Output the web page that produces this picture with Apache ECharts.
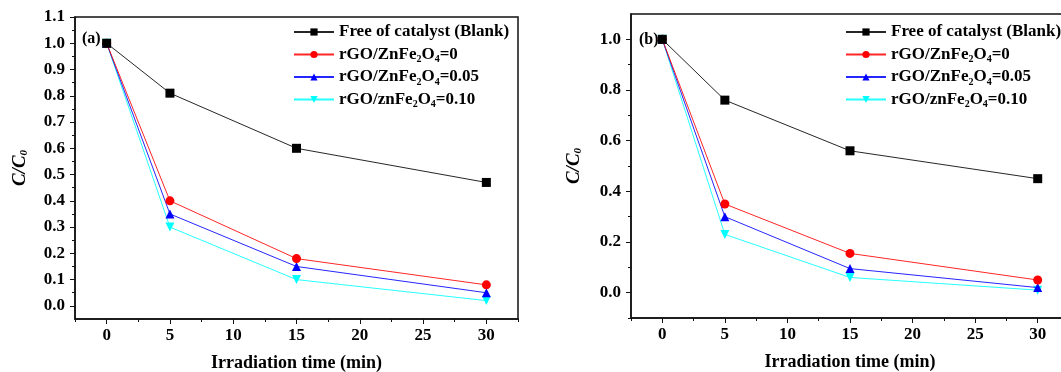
<!DOCTYPE html>
<html>
<head>
<meta charset="utf-8">
<script src="https://cdn.jsdelivr.net/npm/echarts@6/dist/echarts.min.js"></script>
<style>
  html, body { margin: 0; padding: 0; background: #fff; }
  #chart { width: 1061px; height: 372px; }
</style>
</head>
<body>
<div id="chart"></div>
<script>
// irradiation time (min)
const times = [0, 5, 15, 30];

const seriesNames = ['Free of catalyst (Blank)', 'rGO/ZnFe2O4=0', 'rGO/ZnFe2O4=0.05', 'rGO/znFe2O4=0.10'];

// panel (a)
const blankA = [1.0, 0.81, 0.60, 0.47];
const rgo0A = [1.0, 0.40, 0.18, 0.08];
const rgo005A = [1.0, 0.35, 0.15, 0.05];
const rgo010A = [1.0, 0.30, 0.10, 0.02];

// panel (b)
const blankB = [1.0, 0.76, 0.56, 0.45];
const rgo0B = [1.0, 0.35, 0.155, 0.05];
const rgo005B = [1.0, 0.30, 0.095, 0.02];
const rgo010B = [1.0, 0.23, 0.06, 0.01];

// ticks
const xMajor = [0, 5, 10, 15, 20, 25, 30];
const xMinor = [-2.5, 2.5, 7.5, 12.5, 17.5, 22.5, 27.5, 32.5];
const yMajorA = [0, 0.1, 0.2, 0.3, 0.4, 0.5, 0.6, 0.7, 0.8, 0.9, 1.0, 1.1];
const yMinorA = [0.05, 0.15, 0.25, 0.35, 0.45, 0.55, 0.65, 0.75, 0.85, 0.95, 1.05];
const yMajorB = [0, 0.2, 0.4, 0.6, 0.8, 1.0];
const yMinorB = [-0.1, 0.1, 0.3, 0.5, 0.7, 0.9];

const FONT = 'Liberation Serif';
const axisCol = '#111';

const styles = [
    { color: '#000000', symbol: 'rect', rotate: 0 },
    { color: '#ff0000', symbol: 'circle', rotate: 0 },
    { color: '#0000ff', symbol: 'triangle', rotate: 0 },
    { color: '#00ffff', symbol: 'triangle', rotate: 180 }
];

const pair = (ys) => times.map((t, i) => [t, ys[i]]);

function makeSeries(datasets, axisIdx) {
    return datasets.map((ys, i) => ({
        name: seriesNames[i],
        type: 'line',
        xAxisIndex: axisIdx,
        yAxisIndex: axisIdx,
        data: pair(ys),
        symbol: styles[i].symbol,
        symbolRotate: styles[i].rotate,
        symbolSize: 9,
        itemStyle: { color: styles[i].color },
        lineStyle: { color: styles[i].color, width: 1, opacity: 0.85 },
        z: 10 - i
    }));
}

function majorX(grid, nameGap) {
    return {
        type: 'value', gridIndex: grid, position: 'bottom', min: -2.5, max: 32.5,
        name: 'Irradiation time (min)', nameLocation: 'middle', nameGap: nameGap,
        nameTextStyle: { fontFamily: FONT, fontWeight: 'bold', fontSize: 18, color: '#000' },
        axisLine: { show: true, onZero: false, lineStyle: { color: axisCol, width: 1.5 } },
        axisTick: { show: true, inside: false, length: 5, customValues: xMajor, lineStyle: { color: axisCol, width: 1 } },
        axisLabel: { show: true, customValues: xMajor, margin: 8, fontFamily: FONT, fontWeight: 'bold', fontSize: 17, color: '#000' },
        splitLine: { show: false }
    };
}

function minorX(grid) {
    return {
        type: 'value', gridIndex: grid, position: 'bottom', min: -2.5, max: 32.5,
        axisLine: { show: false, onZero: false },
        axisTick: { show: true, inside: false, length: 3, customValues: xMinor, lineStyle: { color: axisCol, width: 1 } },
        axisLabel: { show: false },
        splitLine: { show: false }
    };
}

function majorY(grid, min, ticks, nameGap) {
    return {
        type: 'value', gridIndex: grid, position: 'left', min: min, max: 1.1,
        name: '{i|C/C}{s|0}', nameLocation: 'middle', nameGap: nameGap, nameRotate: 90,
        nameTextStyle: {
            rich: {
                i: { fontFamily: FONT, fontStyle: 'italic', fontWeight: 'bold', fontSize: 19, color: '#000', lineHeight: 20 },
                s: { fontFamily: FONT, fontStyle: 'italic', fontWeight: 'bold', fontSize: 11, color: '#000', lineHeight: 11, verticalAlign: 'bottom' }
            }
        },
        axisLine: { show: true, onZero: false, lineStyle: { color: axisCol, width: 1.5 } },
        axisTick: { show: true, inside: false, length: 5, customValues: ticks, lineStyle: { color: axisCol, width: 1 } },
        axisLabel: {
            show: true, customValues: ticks, margin: 10,
            formatter: v => v.toFixed(1),
            fontFamily: FONT, fontWeight: 'bold', fontSize: 17, color: '#000'
        },
        splitLine: { show: false }
    };
}

function minorY(grid, min, ticks) {
    return {
        type: 'value', gridIndex: grid, position: 'left', min: min, max: 1.1,
        axisLine: { show: false, onZero: false },
        axisTick: { show: true, inside: false, length: 3, customValues: ticks, lineStyle: { color: axisCol, width: 1 } },
        axisLabel: { show: false },
        splitLine: { show: false }
    };
}

function makeLegend(left) {
    return {
        orient: 'vertical', left: left, top: 22, padding: 0,
        itemWidth: 40, itemHeight: 9, itemGap: 2.5,
        data: seriesNames,
        formatter: name => name.replace('Fe2O4', 'Fe{s|2}O{s|4}'),
        textStyle: {
            fontFamily: FONT, fontWeight: 'bold', fontSize: 17, color: '#000', lineHeight: 20,
            rich: {
                s: { fontFamily: FONT, fontWeight: 'bold', fontSize: 10, color: '#000', lineHeight: 10, verticalAlign: 'bottom' }
            }
        }
    };
}

const chart = echarts.init(document.getElementById('chart'), null, { renderer: 'canvas' });

const option = {
    animation: false,
    backgroundColor: '#ffffff',
    grid: [
        { left: 75, top: 17, right: 543, bottom: 53, outerBoundsMode: 'none', containLabel: false, show: true, borderColor: axisCol, borderWidth: 1.5, backgroundColor: 'transparent' },
        { left: 631, top: 14, right: -8, bottom: 54, outerBoundsMode: 'none', containLabel: false, show: true, borderColor: axisCol, borderWidth: 1.5, backgroundColor: 'transparent' }
    ],
    xAxis: [majorX(0, 35), minorX(0), majorX(1, 35), minorX(1)],
    yAxis: [majorY(0, -0.05, yMajorA, 45), minorY(0, -0.05, yMinorA), majorY(1, -0.1, yMajorB, 47), minorY(1, -0.1, yMinorB)],
    legend: [makeLegend(293), makeLegend(845)],
    graphic: [
        { type: 'text', left: 82, top: 31, style: { text: '(a)', fontFamily: FONT, fontWeight: 'bold', fontSize: 16, fill: '#000' } },
        { type: 'text', left: 639, top: 32, style: { text: '(b)', fontFamily: FONT, fontWeight: 'bold', fontSize: 16, fill: '#000' } }
    ],
    series: [
        ...makeSeries([blankA, rgo0A, rgo005A, rgo010A], 0),
        ...makeSeries([blankB, rgo0B, rgo005B, rgo010B], 2)
    ]
};

chart.setOption(option);
</script>
</body>
</html>
